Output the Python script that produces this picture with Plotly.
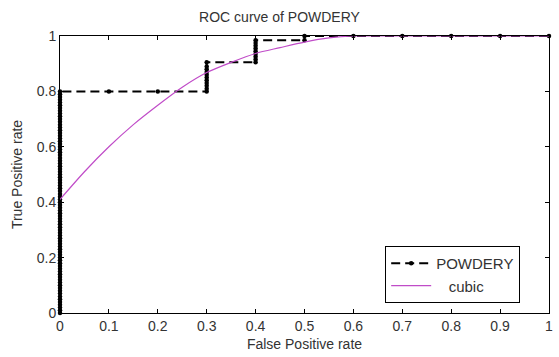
import plotly.graph_objects as go

# ROC points (false positive rate, true positive rate) for POWDERY
roc_fpr = [0, 0, 0, 0, 0, 0, 0, 0, 0, 0, 0, 0, 0, 0, 0, 0, 0, 0, 0, 0, 0,
           0, 0, 0, 0, 0, 0, 0, 0, 0, 0, 0, 0, 0, 0, 0, 0, 0, 0, 0, 0,
           0, 0, 0, 0, 0, 0, 0, 0, 0, 0, 0, 0, 0, 0, 0, 0, 0, 0, 0, 0,
           0, 0, 0, 0, 0, 0, 0, 0, 0, 0, 0, 0, 0, 0, 0, 0, 0, 0, 0, 0,
           0.1, 0.2, 0.3, 0.3, 0.3, 0.3, 0.3, 0.3, 0.3, 0.3, 0.3, 0.3, 0.3,
           0.4, 0.4, 0.4, 0.4, 0.4, 0.4, 0.4, 0.4, 0.4,
           0.5, 0.5, 0.6, 0.7, 0.8, 0.9, 1.0]
roc_tpr = [0.00, 0.01, 0.02, 0.03, 0.04, 0.05, 0.06, 0.07, 0.08, 0.09, 0.10,
           0.11, 0.12, 0.13, 0.14, 0.15, 0.16, 0.17, 0.18, 0.19, 0.20,
           0.21, 0.22, 0.23, 0.24, 0.25, 0.26, 0.27, 0.28, 0.29, 0.30,
           0.31, 0.32, 0.33, 0.34, 0.35, 0.36, 0.37, 0.38, 0.39, 0.40,
           0.41, 0.42, 0.43, 0.44, 0.45, 0.46, 0.47, 0.48, 0.49, 0.50,
           0.51, 0.52, 0.53, 0.54, 0.55, 0.56, 0.57, 0.58, 0.59, 0.60,
           0.61, 0.62, 0.63, 0.64, 0.65, 0.66, 0.67, 0.68, 0.69, 0.70,
           0.71, 0.72, 0.73, 0.74, 0.75, 0.76, 0.77, 0.78, 0.79, 0.80,
           0.80, 0.80, 0.80, 0.81, 0.82, 0.83, 0.84, 0.85, 0.86, 0.87, 0.88, 0.89, 0.905,
           0.905, 0.915, 0.925, 0.935, 0.945, 0.955, 0.965, 0.975, 0.985,
           0.985, 1.0, 1.0, 1.0, 1.0, 1.0, 1.0]

# Cubic fit curve
cubic_x = [0, 0.05, 0.1, 0.15, 0.2, 0.25, 0.3, 0.35, 0.4, 0.45, 0.5, 0.55, 0.6, 0.7, 0.8, 0.9, 1.0]
cubic_y = [0.41, 0.51, 0.60, 0.68, 0.75, 0.815, 0.868, 0.905, 0.937, 0.958, 0.978, 0.993, 1.0, 1.0, 1.0, 1.0, 1.0]

x_ticks = [0, 0.1, 0.2, 0.3, 0.4, 0.5, 0.6, 0.7, 0.8, 0.9, 1]
x_labels = ["0", "0.1", "0.2", "0.3", "0.4", "0.5", "0.6", "0.7", "0.8", "0.9", "1"]
y_ticks = [0, 0.2, 0.4, 0.6, 0.8, 1]
y_labels = ["0", "0.2", "0.4", "0.6", "0.8", "1"]

font_family = "Liberation Sans, Arial, sans-serif"
txt = "#333333"

fig = go.Figure()
fig.add_trace(go.Scatter(
    x=roc_fpr, y=roc_tpr, mode="lines+markers", name="POWDERY",
    line=dict(color="black", width=2, dash="9px,5px"),
    marker=dict(color="black", size=4.5, symbol="circle"),
    cliponaxis=False,
))
fig.add_trace(go.Scatter(
    x=cubic_x, y=cubic_y, mode="lines", name="\u00a0\u00a0\u00a0cubic",
    line=dict(color="#c04cc8", width=1.2, shape="spline", smoothing=0.8),
))

axis_common = dict(
    showgrid=False, zeroline=False, showline=True, linecolor="black", linewidth=1,
    mirror="ticks", ticks="inside", ticklen=4, tickcolor="black",
    tickfont=dict(family=font_family, size=14, color=txt),
    automargin=False,
)
fig.update_layout(
    width=559, height=357,
    margin=dict(l=60, r=10, t=36, b=44),
    paper_bgcolor="white", plot_bgcolor="white",
    title=dict(text="ROC curve of POWDERY", x=0.5, xanchor="center", y=0.952, yanchor="middle",
               font=dict(family=font_family, size=14, color=txt)),
    xaxis=dict(range=[0, 1], tickvals=x_ticks, ticktext=x_labels,
               title=dict(text="False Positive rate", standoff=6,
                          font=dict(family=font_family, size=14, color=txt)),
               **axis_common),
    yaxis=dict(range=[0, 1], tickvals=y_ticks, ticktext=y_labels,
               title=dict(text="True Positive rate", standoff=10,
                          font=dict(family=font_family, size=14, color=txt)),
               **axis_common),
    legend=dict(x=0.665, y=0.242, xanchor="left", yanchor="top",
                bgcolor="white", bordercolor="black", borderwidth=1,
                font=dict(family=font_family, size=15, color=txt),
                tracegroupgap=0, itemwidth=40),
    showlegend=True,
)

fig.write_html("out.html", config={"displayModeBar": False},
               post_script="document.body.style.margin='0';document.body.style.padding='0';")
